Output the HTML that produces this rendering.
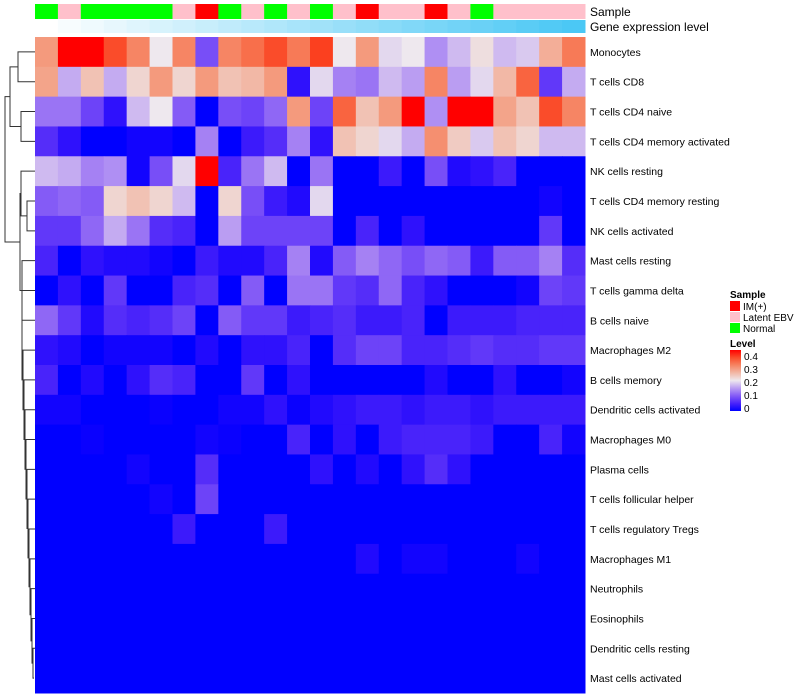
<!DOCTYPE html>
<html><head><meta charset="utf-8"><style>
body{margin:0;background:#fff;}
svg{display:block;font-family:"Liberation Sans",sans-serif;}
</style></head><body>
<svg id="chart" width="800" height="700" xmlns="http://www.w3.org/2000/svg"></svg>
<script>
const rowLabels=["Monocytes","T cells CD8","T cells CD4 naive","T cells CD4 memory activated","NK cells resting","T cells CD4 memory resting","NK cells activated","Mast cells resting","T cells gamma delta","B cells naive","Macrophages M2","B cells memory","Dendritic cells activated","Macrophages M0","Plasma cells","T cells follicular helper","T cells regulatory  Tregs","Macrophages M1","Neutrophils","Eosinophils","Dendritic cells resting","Mast cells activated"];
const sampleGroups=["N","L","N","N","N","N","L","I","N","L","N","L","N","L","I","L","L","I","L","N","L","L","L","L"];
const v0=[.28,.4,.4,.35,.3,.2,.3,.09,.3,.32,.35,.31,.36,.2,.28,.19,.2,.14,.17,.21,.17,.18,.26,.31];
const v1=[.27,.16,.24,.16,.22,.28,.22,.28,.24,.25,.28,.03,.19,.13,.12,.17,.15,.3,.15,.19,.25,.33,.07,.16];
const v2=[.12,.12,.08,.03,.17,.2,.1,0,.09,.08,.11,.28,.08,.33,.24,.28,.4,.14,.4,.4,.27,.24,.35,.3];
const v3=[.06,.03,0,0,.01,.01,0,.13,0,.04,.06,.13,.03,.24,.22,.19,.16,.29,.23,.18,.24,.22,.17,.17];
const v4=[.17,.16,.13,.14,.01,.09,.19,.4,.05,.12,.17,0,.12,0,0,.04,0,.09,.02,.03,.05,0,0,0];
const v5=[.1,.11,.1,.22,.24,.22,.17,0,.22,.09,.04,.02,.19,0,0,0,0,0,0,0,0,0,.01,0];
const v6=[.07,.07,.11,.16,.12,.06,.05,0,.15,.08,.08,.08,.08,0,.05,0,.03,0,0,0,0,0,.07,0];
const v7=[.05,0,.03,.02,.02,.01,0,.04,.02,.02,.05,.13,.02,.1,.13,.11,.09,.11,.1,.04,.1,.1,.13,.06];
const v8=[0,.03,0,.07,0,0,.05,.06,0,.1,0,.12,.12,.07,.06,.11,.05,.03,0,0,0,.01,.08,.07];
const v9=[.11,.07,.02,.06,.05,.06,.08,0,.1,.07,.07,.04,.05,.06,.04,.04,.05,0,.04,.04,.04,.05,.05,.05];
const v10=[.03,.02,0,.01,.01,.01,0,.02,0,.03,.03,.05,0,.06,.08,.08,.05,.05,.06,.07,.06,.06,.07,.07];
const v11=[.05,0,.02,0,.03,.06,.05,0,0,.07,0,.03,0,0,0,0,0,.02,0,0,.03,0,0,.01];
const v12=[.01,.01,0,0,0,.005,0,0,.01,.01,.03,.005,.02,.03,.04,.04,.03,.04,.04,.03,.04,.04,.04,.04];
const v13=[0,0,.005,0,0,0,0,.01,.005,0,0,.05,0,.03,0,.04,.05,.05,.05,.04,0,0,.05,.01];
const v14=[0,0,0,0,.01,0,0,.06,0,0,0,0,.03,0,.02,0,.03,.06,.03,0,0,0,0,0];
const v15=[0,0,0,0,0,.01,0,.08,0,0,0,0,0,0,0,0,0,0,0,0,0,0,0,0];
const v16=[0,0,0,0,0,0,.04,0,0,0,.04,0,0,0,0,0,0,0,0,0,0,0,0,0];
const v17=[0,0,0,0,0,0,0,0,0,0,0,0,0,0,.02,0,.01,.01,0,0,0,.01,0,0];
const v18=[0,0,0,0,0,0,0,0,0,0,0,0,0,0,0,0,0,0,0,0,0,0,0,0];
const v19=[0,0,0,0,0,0,0,0,0,0,0,0,0,0,0,0,0,0,0,0,0,0,0,0];
const v20=[0,0,0,0,0,0,0,0,0,0,0,0,0,0,0,0,0,0,0,0,0,0,0,0];
const v21=[0,0,0,0,0,0,0,0,0,0,0,0,0,0,0,0,0,0,0,0,0,0,0,0];
const values=[v0,v1,v2,v3,v4,v5,v6,v7,v8,v9,v10,v11,v12,v13,v14,v15,v16,v17,v18,v19,v20,v21];
const legendTicks=["0","0.1","0.2","0.3","0.4"];

const NS="http://www.w3.org/2000/svg";
const svg=document.getElementById("chart");
function mk(tag,a,p){const el=document.createElementNS(NS,tag);for(const k in a)el.setAttribute(k,a[k]);(p||svg).appendChild(el);return el;}
const X0=35,X1=585,Y0=37,Y1=693;
const nC=24,nR=rowLabels.length,cw=(X1-X0)/nC,rh=(Y1-Y0)/nR;
const xS=i=>X0+i*cw, yS=j=>Y0+j*rh;
function col(v){
  const f=Math.max(0,Math.min(1,v/0.4));
  let r,g,b;
  if(f<0.5){const s=f/0.5;r=238*Math.pow(s,0.85);g=232*Math.pow(s,1.35);b=255-17*s;}
  else{const s=(f-0.5)/0.5;r=238+17*s;g=232*Math.pow(1-s,0.8);b=238*Math.pow(1-s,1.25);}
  return `rgb(${r|0},${g|0},${b|0})`;
}
const gCol={I:"#ff0000",L:"#ffc0cb",N:"#00ff00"};
sampleGroups.forEach((g,i)=>{
  const r=mk("rect",{x:xS(i),y:4,width:cw+0.5,height:15,fill:gCol[g]});
  
  
});
for(let i=0;i<nC;i++){
  const s=i/(nC-1);
  const r=mk("rect",{x:xS(i),y:20,width:cw+0.5,height:13,fill:`rgb(${255-180*s|0},${255-55*s|0},${255-10*s|0})`});
  
  
}
let lab=mk("text",{x:590,y:16,"font-size":12});lab.textContent="Sample";

lab=mk("text",{x:590,y:31,"font-size":12});lab.textContent="Gene expression level";

values.forEach((row,j)=>{
  row.forEach((v,i)=>{
    const r=mk("rect",{x:xS(i),y:yS(j),width:cw+0.5,height:rh+0.5,fill:col(v)});
    
    
  });
  const l=mk("text",{x:590,y:yS(j)+rh/2+4,"font-size":10.5});
  l.textContent=rowLabels[j];
  
  
});
const cy=j=>yS(j)+rh/2;
const dg=mk("g",{stroke:"#333","stroke-width":1,fill:"none"});

function join(ya,xa,yb,xb,x){mk("path",{d:`M${xa},${ya}H${x}V${yb}H${xb}`},dg);return (ya+yb)/2;}
const nA=join(cy(0),35,cy(1),35,18);
const nB=join(cy(2),35,cy(3),35,21);
const topNode=join(nA,18,nB,21,10);
const nC2=join(cy(5),35,cy(6),35,27);
const nD=join(cy(4),35,nC2,27,21);
let cur=cy(21),cx=34;
for(let j=20;j>=7;j--){const nx=Math.max(22,cx-1);cur=join(cy(j),35,cur,cx,nx);cx=nx;}
const nE=join(nD,21,cur,cx,20);
join(topNode,10,nE,20,5);
lab=mk("text",{x:730,y:298,"font-size":10,"font-weight":"bold"});lab.textContent="Sample";

[["IM(+)","I"],["Latent EBV","L"],["Normal","N"]].forEach((p,k)=>{
  const r=mk("rect",{x:730,y:301+k*11,width:10,height:10,fill:gCol[p[1]]});
  
  const tx=mk("text",{x:743,y:310+k*11,"font-size":10});tx.textContent=p[0];
  
});
lab=mk("text",{x:730,y:347,"font-size":10,"font-weight":"bold"});lab.textContent="Level";

const defs=mk("defs",{});
const lg=mk("linearGradient",{id:"lv",x1:0,y1:1,x2:0,y2:0},defs);
[0,.125,.25,.375,.5,.625,.75,.875,1].forEach(o=>mk("stop",{offset:o,"stop-color":col(o*0.4)},lg));
const bar=mk("rect",{x:730,y:350,width:11,height:61,fill:"url(#lv)"});

legendTicks.forEach((s,k)=>{
  const y=408-k*13;
  const tx=mk("text",{x:744,y:y+4,"font-size":10});tx.textContent=s;
  
});
</script>
</body></html>
